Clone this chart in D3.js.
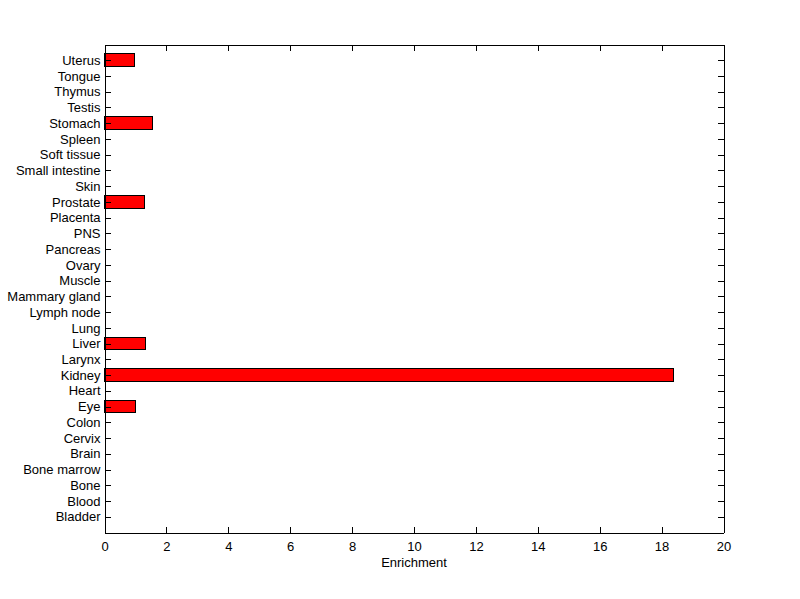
<!DOCTYPE html>
<html>
<head>
<meta charset="utf-8">
<script src="https://cdn.jsdelivr.net/npm/d3@7"></script>
<style>
  body { margin: 0; background: #fff; }
  text { font-family: Arial, "Liberation Sans", sans-serif; font-size: 13px; fill: #000; }
  line, path, rect { shape-rendering: crispEdges; }
</style>
</head>
<body>
<svg id="chart" width="800" height="599"></svg>
<script>
// tissues, bottom to top as drawn
const tissues = ['Bladder', 'Blood', 'Bone', 'Bone marrow', 'Brain', 'Cervix', 'Colon', 'Eye',
    'Heart', 'Kidney', 'Larynx', 'Liver', 'Lung', 'Lymph node', 'Mammary gland', 'Muscle',
    'Ovary', 'Pancreas', 'PNS', 'Placenta', 'Prostate', 'Skin', 'Small intestine',
    'Soft tissue', 'Spleen', 'Stomach', 'Testis', 'Thymus', 'Tongue', 'Uterus'];
const enrichment = [0, 0, 0, 0, 0, 0, 0, 1.01,
    0, 18.4, 0, 1.32, 0, 0, 0, 0,
    0, 0, 0, 0, 1.29, 0, 0,
    0, 0, 1.56, 0, 0, 0, 0.96];
const xTicks = [0, 2, 4, 6, 8, 10, 12, 14, 16, 18, 20];

const svg = d3.select('#chart');
const plotLeft = 104.5, plotRight = 723.5, plotTop = 44.5, plotBottom = 532.5;

const x = d3.scaleLinear().domain([0, 20]).range([plotLeft, plotRight]);
const y = d3.scaleLinear().domain([0, tissues.length + 1]).range([plotBottom, plotTop]);
const barH = (y(0) - y(1)) * 0.8;

const data = tissues.map((t, i) => ({tissue: t, value: enrichment[i], pos: i + 1}));

// bars
svg.append('g')
    .selectAll('rect')
    .data(data.filter(d => d.value > 0))
    .enter()
    .append('rect')
    .attr('x', x(0))
    .attr('y', d => y(d.pos) - barH / 2)
    .attr('width', d => x(d.value) - x(0))
    .attr('height', barH)
    .attr('fill', '#ff0000')
    .attr('stroke', '#000')
    .attr('stroke-width', 1);

// axes (ticks pointing inward, box all round)
const tickLen = 6;
const bottomAxis = d3.axisBottom(x).tickValues(xTicks).tickSizeInner(-tickLen).tickSizeOuter(0).tickPadding(9);
const topAxis = d3.axisTop(x).tickValues(xTicks).tickSizeInner(-tickLen).tickSizeOuter(0).tickFormat('');
const yTickVals = data.map(d => d.pos);
const leftAxis = d3.axisLeft(y).tickValues(yTickVals).tickSizeInner(-tickLen).tickSizeOuter(0)
    .tickPadding(4).tickFormat(v => tissues[v - 1]);
const rightAxis = d3.axisRight(y).tickValues(yTickVals).tickSizeInner(-tickLen).tickSizeOuter(0).tickFormat('');

function styleAxis(g) {
    g.select('.domain').attr('stroke', '#000');
    g.selectAll('.tick line').attr('stroke', '#000');
    g.selectAll('text').attr('font-size', 13).attr('font-family', 'Arial, "Liberation Sans", sans-serif').attr('fill', '#000');
}

svg.append('g').attr('transform', `translate(0,${plotBottom})`).call(bottomAxis).call(styleAxis);
svg.append('g').attr('transform', `translate(0,${plotTop})`).call(topAxis).call(styleAxis);
svg.append('g').attr('transform', `translate(${plotLeft},0)`).call(leftAxis).call(styleAxis);
svg.append('g').attr('transform', `translate(${plotRight},0)`).call(rightAxis).call(styleAxis);

// x label
svg.append('text')
    .attr('x', (plotLeft + plotRight) / 2)
    .attr('y', 567)
    .attr('text-anchor', 'middle')
    .text('Enrichment');
</script>
</body>
</html>
